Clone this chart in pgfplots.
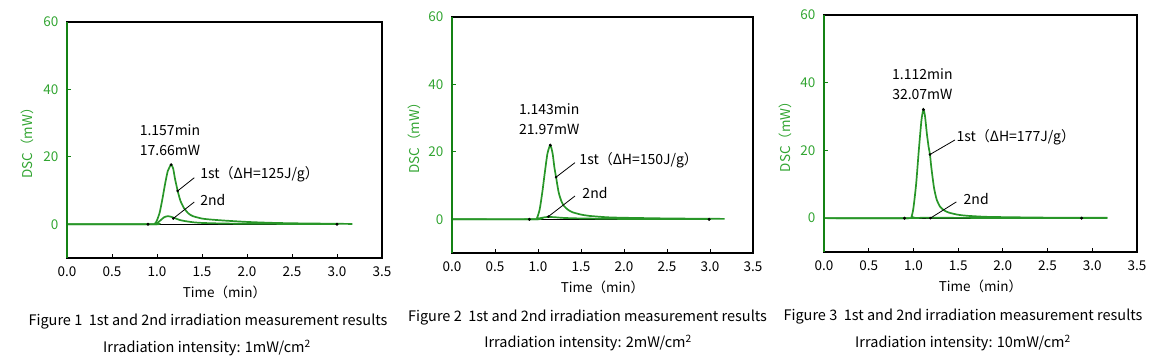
\documentclass[border=0pt]{standalone}
\usepackage{fontspec}
\setmainfont{Noto Sans CJK JP}
\usepackage{pgfplots}
\pgfplotsset{compat=1.18}
\definecolor{cg}{RGB}{40,150,40}
\definecolor{tg}{RGB}{50,165,50}
\definecolor{ag}{RGB}{20,130,20}
\pgfplotsset{dsc/.style={
  scale only axis, clip=false,
  xmin=0, xmax=3.5, ymin=-10, ymax=60,
  xtick={0,0.5,1,1.5,2,2.5,3,3.5},
  xticklabels={0.0,0.5,1.0,1.5,2.0,2.5,3.0,3.5},
  ytick={0,20,40,60}, yticklabels={0,20,40,60},
  /pgf/number format/assume math mode=true,
  tick pos=left, tick align=inside, major tick length=4pt,
  axis line style={black, line width=1.3pt},
  x tick style={black, line width=0.8pt},
  y tick style={ag, line width=0.8pt},
  yticklabel style={text=tg, font=\fontsize{13.5}{15}\selectfont, xshift=-5pt},
  xticklabel style={font=\fontsize{13.5}{15}\selectfont, yshift=-5pt},
  xlabel={Time（min）},
  xlabel style={at={(axis description cs:0.5,-0.144)}, anchor=center, font=\fontsize{13.5}{15}\selectfont},
  ylabel={DSC（mW）},
  ylabel style={at={(axis description cs:-0.125,0.5)}, anchor=center, text=tg, font=\fontsize{13.5}{15}\selectfont},
}}
\tikzset{lab/.style={inner sep=0pt, font=\fontsize{14}{16}\selectfont},
  figcap/.style={font=\fontsize{14.5}{16}\selectfont}}
\begin{document}
\begin{tikzpicture}
\useasboundingbox (0,0) rectangle (1160pt,364pt);
% ---------------- Panel 1 ----------------
\begin{axis}[dsc, at={(67pt,106pt)}, anchor=south west, width=315pt, height=236pt]
\addplot[black, line width=0.6pt, mark=*, mark size=1.2pt] coordinates {(0.9,0) (3.0,0)};
\addplot[cg, line width=1.7pt, smooth, tension=0.4] coordinates {
(0,0) (0.95,0) (0.98,0.3) (1.0,1.2) (1.03,3.5) (1.06,7.5) (1.09,12) (1.12,15.8) (1.157,17.66)
(1.18,16.5) (1.2,13.5) (1.23,9.9) (1.26,7) (1.3,4.8) (1.35,3.2) (1.4,2.4) (1.5,1.7) (1.6,1.4)
(1.75,1.1) (2.0,0.7) (2.25,0.45) (2.5,0.3) (3.0,0.15) (3.17,0.1)};
\addplot[cg, line width=1.7pt, smooth, tension=0.4] coordinates {
(0,0) (0.97,0) (1.0,0.3) (1.04,1.2) (1.08,2.1) (1.12,2.4) (1.16,2.2) (1.2,1.8) (1.25,1.3)
(1.3,1.0) (1.4,0.6) (1.5,0.4) (1.7,0.25) (2.0,0.15) (3.0,0.05)};
\addplot[only marks, black, mark=*, mark size=1.3pt] coordinates {(1.157,17.66)};
\addplot[black, line width=0.8pt] coordinates {(1.414,13.8) (1.23,9.9)};
\addplot[black, line width=0.8pt] coordinates {(1.414,6.6) (1.18,1.7)};
\addplot[only marks, black, mark=*, mark size=1.1pt] coordinates {(1.23,9.9) (1.18,1.7)};
\node[lab] at (axis cs:1.144,28.0) {1.157min};
\node[lab] at (axis cs:1.144,21.9) {17.66mW};
\node[lab, anchor=west] at (axis cs:1.48,14.9) {1st（ΔH=125J/g）};
\node[lab, anchor=west] at (axis cs:1.48,7.3) {2nd};
\draw[ag, line width=1.6pt] (rel axis cs:0,0) -- (rel axis cs:0,1);
\end{axis}
% ---------------- Panel 2 ----------------
\begin{axis}[dsc, at={(452pt,111pt)}, anchor=south west, width=301pt, height=236pt]
\addplot[black, line width=0.6pt, mark=*, mark size=1.2pt] coordinates {(0.9,0) (2.99,0)};
\addplot[cg, line width=1.7pt, smooth, tension=0.4] coordinates {
(0,0) (0.96,0) (0.99,0.5) (1.02,3) (1.05,8) (1.08,14) (1.11,19.5) (1.143,21.97) (1.17,19.5)
(1.19,15.5) (1.21,12.5) (1.24,8) (1.27,5.5) (1.3,4) (1.35,2.8) (1.4,2.1) (1.5,1.4) (1.6,1.0)
(1.8,0.6) (2.0,0.45) (2.5,0.25) (3.0,0.15) (3.17,0.12)};
\addplot[cg, line width=1.7pt, smooth, tension=0.4] coordinates {
(0,0) (0.97,0) (1.02,0.3) (1.08,0.6) (1.12,0.7) (1.2,0.6) (1.3,0.4) (1.5,0.25) (2,0.1) (3,0.05)};
\addplot[only marks, black, mark=*, mark size=1.3pt] coordinates {(1.143,21.97)};
\addplot[black, line width=0.8pt] coordinates {(1.43,16.8) (1.21,12.5)};
\addplot[black, line width=0.8pt] coordinates {(1.43,6.9) (1.12,0.8)};
\addplot[only marks, black, mark=*, mark size=1.1pt] coordinates {(1.21,12.5) (1.12,0.8)};
\node[lab] at (axis cs:1.13,32.7) {1.143min};
\node[lab] at (axis cs:1.13,26.6) {21.97mW};
\node[lab, anchor=west] at (axis cs:1.48,17.5) {1st（ΔH=150J/g）};
\node[lab, anchor=west] at (axis cs:1.515,7.9) {2nd};
\draw[ag, line width=1.6pt] (rel axis cs:0,0) -- (rel axis cs:0,1);
\end{axis}
% ---------------- Panel 3 ----------------
\begin{axis}[dsc, at={(824pt,112pt)}, anchor=south west, width=313pt, height=237pt]
\addplot[black, line width=0.6pt, mark=*, mark size=1.2pt] coordinates {(0.9,0) (2.88,0)};
\addplot[cg, line width=1.7pt, smooth, tension=0.4] coordinates {
(0,0) (0.96,0) (0.98,0.5) (1.0,3) (1.03,10) (1.06,20) (1.09,29) (1.112,32.07) (1.13,30)
(1.15,25) (1.17,21) (1.185,18.8) (1.2,15) (1.23,9) (1.26,5.5) (1.3,3.3) (1.35,2.2) (1.4,1.6)
(1.5,1.0) (1.6,0.7) (1.8,0.4) (2.0,0.3) (2.5,0.15) (3.17,0.1)};
\addplot[cg, line width=1.7pt, smooth, tension=0.4] coordinates {
(0,0) (0.97,0) (1.1,0.15) (1.3,0.1) (2,0.05) (3.17,0.03)};
\addplot[only marks, black, mark=*, mark size=1.3pt] coordinates {(1.112,32.07)};
\addplot[black, line width=0.8pt] coordinates {(1.465,23.1) (1.185,18.8)};
\addplot[black, line width=0.8pt] coordinates {(1.48,4.8) (1.19,0)};
\addplot[only marks, black, mark=*, mark size=1.1pt] coordinates {(1.185,18.8) (1.19,0)};
\node[lab] at (axis cs:1.10,42.6) {1.112min};
\node[lab] at (axis cs:1.10,36.6) {32.07mW};
\node[lab, anchor=west] at (axis cs:1.48,23.8) {1st（ΔH=177J/g）};
\node[lab, anchor=west] at (axis cs:1.56,5.6) {2nd};
\draw[ag, line width=1.6pt] (rel axis cs:0,0) -- (rel axis cs:0,1);
\end{axis}
% ---------------- Captions ----------------
\node[figcap] at (208pt,42pt) {Figure 1\ \ 1st and 2nd irradiation measurement results};
\node[figcap] at (207pt,16pt) {Irradiation intensity: 1mW/cm\textsuperscript{2}};
\node[figcap] at (587.5pt,46pt) {Figure 2\ \ 1st and 2nd irradiation measurement results};
\node[figcap] at (588pt,21pt) {Irradiation intensity: 2mW/cm\textsuperscript{2}};
\node[figcap] at (963pt,47pt) {Figure 3\ \ 1st and 2nd irradiation measurement results};
\node[figcap] at (963pt,21pt) {Irradiation intensity: 10mW/cm\textsuperscript{2}};
\end{tikzpicture}
\end{document}
